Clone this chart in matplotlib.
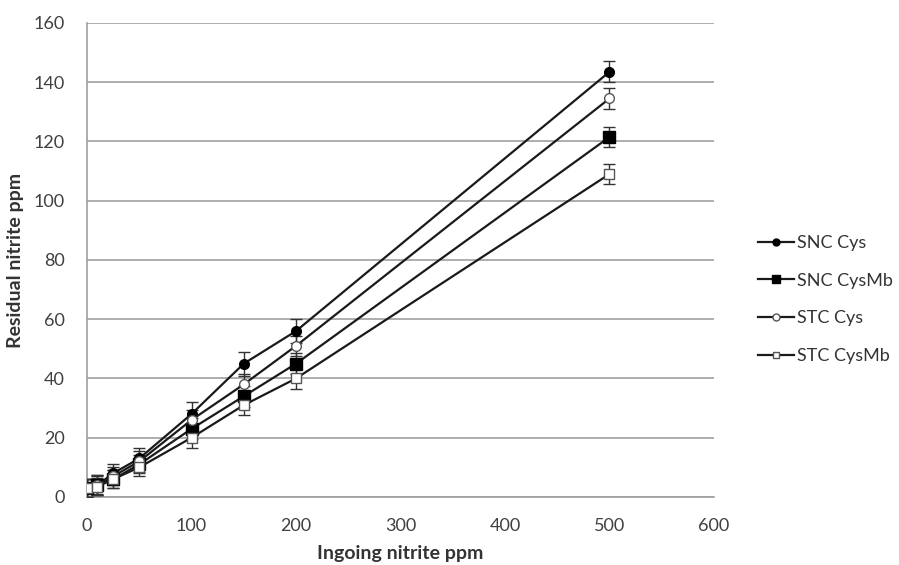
import matplotlib
matplotlib.use("Agg")
import matplotlib.pyplot as plt
from matplotlib.lines import Line2D
import numpy as np

plt.rcParams['font.family'] = ['Lato', 'DejaVu Sans']

# concentrations de nitrite en entrée (ppm)
ingoing = [0, 10, 25, 50, 100, 150, 200, 500]

snc_cys = [3, 4, 8, 13, 28, 45, 56, 143.5]
snc_cysmb = [3, 4, 6, 11, 23, 34, 45, 121.5]
stc_cys = [3, 4, 7, 12, 26, 38, 51, 134.5]
stc_cysmb = [3, 3.5, 6, 10, 20, 31, 40, 109]

err_snc_cys = [3, 3.5, 3, 3.5, 4, 4, 4, 3.5]
err_snc_cysmb = [3, 3.5, 3, 3, 3.5, 3.5, 3.5, 3.5]
err_stc_cys = [3, 3, 3, 3.5, 3.5, 3.5, 3.5, 3.5]
err_stc_cysmb = [3, 3, 3, 3, 3.5, 3.5, 3.5, 3.5]

labels = ["SNC Cys", "SNC CysMb", "STC Cys", "STC CysMb"]

fig = plt.figure(figsize=(8.99, 5.65), dpi=100)
ax = fig.add_axes([0.0968, 0.1204, 0.6974, 0.839])

series = [
    (snc_cys, err_snc_cys, 'o', 'black', 7),
    (snc_cysmb, err_snc_cysmb, 's', 'black', 8),
    (stc_cys, err_stc_cys, 'o', 'white', 7),
    (stc_cysmb, err_stc_cysmb, 's', 'white', 7),
]
handles = []
for (vals, err, m, fc, ms), lab in zip(series, labels):
    ec = '#555555' if fc == 'white' else 'black'
    ax.errorbar(ingoing, vals, yerr=err, color='#1a1a1a', lw=1.6,
                marker=m, ms=ms, mfc=fc, mec=ec, mew=1.0,
                ecolor='#333333', elinewidth=1.0, capsize=4, zorder=3)
    handles.append(Line2D([], [], color='#1a1a1a', lw=1.6, marker=m,
                          ms=ms - 2, mfc=fc, mec=ec, mew=1.0, label=lab))

ax.set_xlim(0, 600)
ax.set_ylim(0, 160)
ax.set_xticks(range(0, 601, 100))
ax.set_yticks(range(0, 161, 20))
ax.yaxis.grid(True, color='#a0a0a0', lw=1.2)
ax.set_axisbelow(True)
for s in ['top', 'right']:
    ax.spines[s].set_visible(False)
for s in ['left', 'bottom']:
    ax.spines[s].set_color('#a0a0a0')
    ax.spines[s].set_linewidth(1.2)
ax.tick_params(axis='both', labelsize=13, labelcolor='#404040', length=0)
ax.tick_params(axis='x', pad=15)
ax.tick_params(axis='y', pad=16)
ax.set_xlabel("Ingoing nitrite ppm", fontsize=14, fontweight='bold',
              color='#333333', labelpad=8)
ax.set_ylabel("Residual nitrite ppm", fontsize=14, fontweight='bold',
              color='#333333', labelpad=7)

fig.legend(handles=handles, loc='center left', bbox_to_anchor=(0.825, 0.47),
           frameon=False, fontsize=13, handlelength=2.0, labelspacing=1.2,
           handletextpad=0.15, labelcolor='#333333')

fig.savefig("out.png", dpi=100)
